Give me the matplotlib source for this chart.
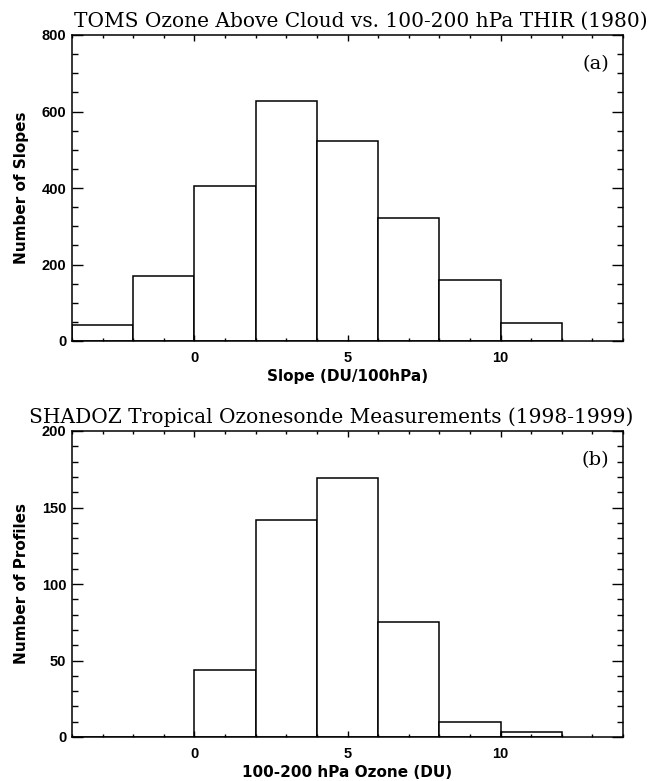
import matplotlib
matplotlib.use('Agg')
import matplotlib.pyplot as plt
from matplotlib.ticker import MultipleLocator

# bin edges (left side) shared by both panels, 2 DU wide
bin_left = [-4, -2, 0, 2, 4, 6, 8, 10]
bin_width = 2

# (a) TOMS slopes histogram
toms_counts = [43, 169, 406, 628, 522, 322, 159, 47]
# (b) SHADOZ ozonesonde histogram
shadoz_counts = [0, 0, 44, 142, 169, 75, 10, 3]

titles = ['TOMS Ozone Above Cloud vs. 100-200 hPa THIR (1980)',
          'SHADOZ Tropical Ozonesonde Measurements (1998-1999)']
title_x = [0.525, 0.47]
xlabels = ['Slope (DU/100hPa)', '100-200 hPa Ozone (DU)']
ylabels = ['Number of Slopes', 'Number of Profiles']
panel_tags = ['(a)', '(b)']

W, H = 657, 781
fig = plt.figure(figsize=(W / 100, H / 100), dpi=100)

left, width = 72 / W, 551 / W
ax_top = fig.add_axes([left, 1 - 341 / H, width, 306 / H])
ax_bot = fig.add_axes([left, 1 - 737 / H, width, 306 / H])

lab_font = dict(family='DejaVu Sans', weight='bold', size=11)
title_font = dict(family='DejaVu Serif', size=14.5)

settings = [
    (ax_top, toms_counts, 800, 200, 50),
    (ax_bot, shadoz_counts, 200, 50, 10),
]

for i, (ax, counts, ymax, ymaj, ymin) in enumerate(settings):
    ax.bar(bin_left, counts, width=bin_width, align='edge',
           facecolor='white', edgecolor='black', linewidth=1.1)
    ax.set_xlim(-4, 14)
    ax.set_ylim(0, ymax)

    ax.xaxis.set_major_locator(MultipleLocator(5))
    ax.xaxis.set_minor_locator(MultipleLocator(1))
    ax.yaxis.set_major_locator(MultipleLocator(ymaj))
    ax.yaxis.set_minor_locator(MultipleLocator(ymin))

    ax.tick_params(axis='both', which='both', direction='in',
                   top=True, right=True, width=1.0, color='black')
    ax.tick_params(axis='x', which='major', length=4.5, pad=7)
    ax.tick_params(axis='x', which='minor', length=2.2)
    ax.tick_params(axis='y', which='major', length=8, pad=4)
    ax.tick_params(axis='y', which='minor', length=4)

    for lbl in ax.get_xticklabels() + ax.get_yticklabels():
        lbl.set_fontfamily('Liberation Sans')
        lbl.set_fontweight('bold')
        lbl.set_fontsize(10.5)

    for sp in ax.spines.values():
        sp.set_linewidth(1.1)

    ax.set_xlabel(xlabels[i], labelpad=3, **lab_font)
    ax.set_ylabel(ylabels[i], labelpad=9, **lab_font)
    ax.set_title(titles[i], x=title_x[i], pad=6, **title_font)
    ax.text(0.95, 0.905, panel_tags[i], transform=ax.transAxes,
            ha='center', va='center', family='DejaVu Serif', size=14)

fig.savefig('out.png', dpi=100)
